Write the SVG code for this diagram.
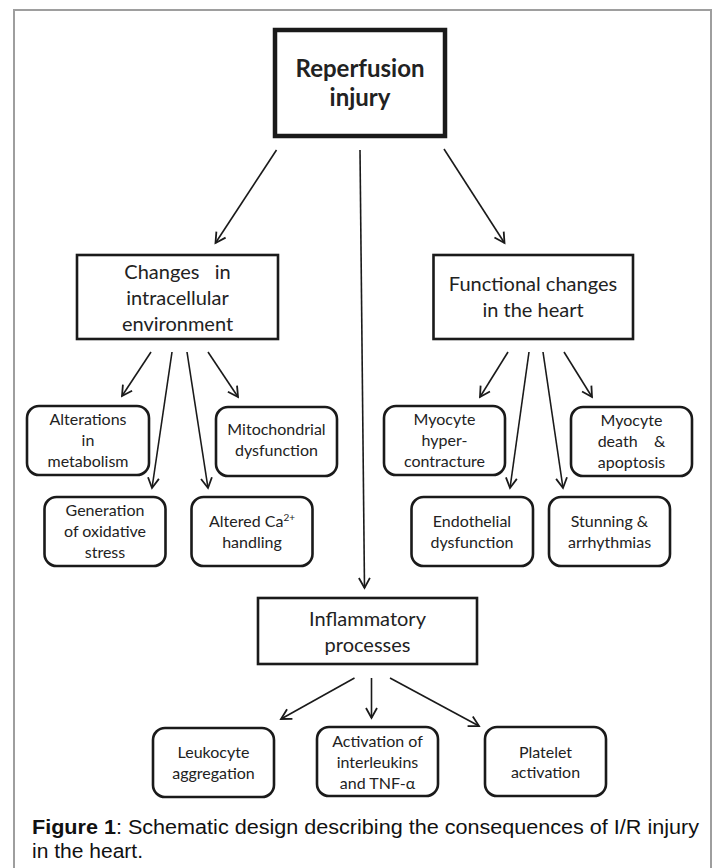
<svg xmlns="http://www.w3.org/2000/svg" width="717" height="868" viewBox="0 0 717 868">
<defs>
<marker id="arr" markerUnits="userSpaceOnUse" markerWidth="14" markerHeight="14" viewBox="0 0 14 14" refX="12" refY="7" orient="auto">
<path d="M2,1.5 L12,7 L2,12.5" fill="none" stroke="#1a1a1a" stroke-width="1.8"/>
</marker>
</defs>
<style>
.frame{fill:#fff;stroke:#9e9e9e;stroke-width:2}
.main{fill:#fff;stroke:#1a1a1a;stroke-width:4.5}
.mid{fill:#fff;stroke:#1a1a1a;stroke-width:2.6}
.leaf{fill:#fff;stroke:#1a1a1a;stroke-width:2.6}
.t{font-family:Lato,"Open Sans","Liberation Sans",sans-serif;fill:#222;text-anchor:middle}
.tb{font-size:24px;font-weight:bold}
.tm{font-size:20px}
.ts{font-size:16px}
.cap{font-family:"Liberation Sans",Arial,sans-serif;font-size:20px;fill:#111}
.conn line{stroke:#1a1a1a;stroke-width:1.6;marker-end:url(#arr)}
</style>
<rect x="0" y="0" width="717" height="868" fill="#fff"/>
<path class="frame" d="M14,870 L14,10 L711,10 L711,870"/>

<g id="reperfusion">
<rect class="main" x="275" y="30" width="170" height="106"/>
<text class="t tb" x="360" y="77">Reperfusion</text>
<text class="t tb" x="360" y="106">injury</text>
</g>

<g id="changes">
<rect class="mid" x="77" y="255" width="201" height="84"/>
<text class="t tm" x="177.5" y="279" xml:space="preserve">Changes   in</text>
<text class="t tm" x="177.5" y="305">intracellular</text>
<text class="t tm" x="177.5" y="331">environment</text>
</g>

<g id="functional">
<rect class="mid" x="433.5" y="255" width="199.5" height="84"/>
<text class="t tm" x="533" y="291">Functional changes</text>
<text class="t tm" x="533" y="317">in the heart</text>
</g>

<g id="alterations">
<rect class="leaf" x="27" y="406" width="122" height="69" rx="12"/>
<text class="t ts" x="88" y="425">Alterations</text>
<text class="t ts" x="88" y="446">in</text>
<text class="t ts" x="88" y="467">metabolism</text>
</g>

<g id="mitochondrial">
<rect class="leaf" x="216" y="407" width="121" height="69" rx="12"/>
<text class="t ts" x="276.5" y="435">Mitochondrial</text>
<text class="t ts" x="276.5" y="456">dysfunction</text>
</g>

<g id="generation">
<rect class="leaf" x="44.5" y="497" width="121" height="69" rx="12"/>
<text class="t ts" x="105" y="516">Generation</text>
<text class="t ts" x="105" y="537">of oxidative</text>
<text class="t ts" x="105" y="558">stress</text>
</g>

<g id="calcium">
<rect class="leaf" x="191.5" y="497" width="121" height="69" rx="12"/>
<text class="t ts" x="252" y="527">Altered Ca<tspan font-size="10" dy="-6">2+</tspan></text>
<text class="t ts" x="252" y="548">handling</text>
</g>

<g id="hypercontracture">
<rect class="leaf" x="384" y="406" width="121" height="69" rx="12"/>
<text class="t ts" x="444.5" y="425">Myocyte</text>
<text class="t ts" x="444.5" y="446">hyper-</text>
<text class="t ts" x="444.5" y="467">contracture</text>
</g>

<g id="death">
<rect class="leaf" x="571" y="407" width="121" height="69" rx="12"/>
<text class="t ts" x="631.5" y="426">Myocyte</text>
<text class="t ts" x="631.5" y="447" xml:space="preserve">death    &amp;</text>
<text class="t ts" x="631.5" y="468">apoptosis</text>
</g>

<g id="endothelial">
<rect class="leaf" x="411.5" y="497" width="121.5" height="69" rx="12"/>
<text class="t ts" x="472" y="527">Endothelial</text>
<text class="t ts" x="472" y="548">dysfunction</text>
</g>

<g id="stunning">
<rect class="leaf" x="549" y="497" width="121" height="69" rx="12"/>
<text class="t ts" x="609.5" y="527">Stunning &amp;</text>
<text class="t ts" x="609.5" y="548">arrhythmias</text>
</g>

<g id="inflammatory">
<rect class="mid" x="258" y="598" width="219" height="66"/>
<text class="t tm" x="367.5" y="626">Inflammatory</text>
<text class="t tm" x="367.5" y="652">processes</text>
</g>

<g id="leukocyte">
<rect class="leaf" x="153" y="728" width="121" height="69" rx="12"/>
<text class="t ts" x="213.5" y="758">Leukocyte</text>
<text class="t ts" x="213.5" y="779">aggregation</text>
</g>

<g id="interleukins">
<rect class="leaf" x="317" y="727" width="121" height="69" rx="12"/>
<text class="t ts" x="377.5" y="747">Activation of</text>
<text class="t ts" x="377.5" y="768">interleukins</text>
<text class="t ts" x="377.5" y="789">and TNF-α</text>
</g>

<g id="platelet">
<rect class="leaf" x="485" y="727" width="121" height="69" rx="12"/>
<text class="t ts" x="545.5" y="758">Platelet</text>
<text class="t ts" x="545.5" y="778">activation</text>
</g>

<g id="connectors" class="conn">
<line x1="276.5" y1="150" x2="215.5" y2="243"/>
<line x1="360" y1="150" x2="364.5" y2="588"/>
<line x1="444" y1="149" x2="504.5" y2="243"/>
<line x1="151" y1="352" x2="122" y2="396"/>
<line x1="172" y1="352" x2="152" y2="488"/>
<line x1="187" y1="352" x2="208" y2="488"/>
<line x1="208" y1="352" x2="238" y2="397"/>
<line x1="508" y1="352" x2="480" y2="397"/>
<line x1="529" y1="352" x2="510" y2="488"/>
<line x1="543" y1="352" x2="563" y2="488"/>
<line x1="564" y1="352" x2="592" y2="397"/>
<line x1="354.5" y1="678" x2="281" y2="719"/>
<line x1="371.5" y1="678" x2="371.5" y2="718"/>
<line x1="390" y1="678" x2="479" y2="726"/>
</g>

<g id="caption">
<text class="cap" x="32" y="834" textLength="667" lengthAdjust="spacingAndGlyphs"><tspan font-weight="bold">Figure 1</tspan>: Schematic design describing the consequences of I/R injury</text>
<text class="cap" x="32" y="858" textLength="111" lengthAdjust="spacingAndGlyphs">in the heart.</text>
</g>
</svg>
